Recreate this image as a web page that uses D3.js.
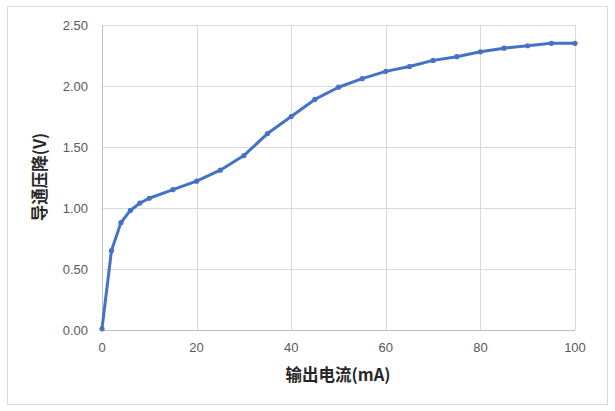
<!DOCTYPE html>
<html><head><meta charset="utf-8">
<script src="https://cdn.jsdelivr.net/npm/d3@7"></script>
<style>body{margin:0;background:#fff;}svg{display:block;}</style>
</head><body><svg id="c" width="615" height="411"></svg>
<script>
const currents = [0,2,4,6,8,10,15,20,25,30,35,40,45,50,55,60,65,70,75,80,85,90,95,100];
const voltages = [0.01,0.65,0.88,0.98,1.04,1.08,1.15,1.22,1.31,1.43,1.61,1.75,1.89,1.99,2.06,2.12,2.16,2.21,2.24,2.28,2.31,2.33,2.35,2.35];
const xTicks = [0,20,40,60,80,100];
const yTicks = [0,0.5,1,1.5,2,2.5];
const xTitle = "输出电流(mA)";
const yTitle = "导通压降(V)";

const svg = d3.select("#c");
svg.append("rect").attr("x",7.5).attr("y",6.5).attr("width",600).attr("height",398)
  .attr("fill","#fff").attr("stroke","#d9d9d9");
const L=102,R=575,T=25,B=330;
const x = d3.scaleLinear().domain([0,100]).range([L,R]);
const y = d3.scaleLinear().domain([0,2.5]).range([B,T]);
const font = "'Liberation Sans', Arial, sans-serif";

const g = svg.append("g");
g.selectAll(".hg").data(yTicks).join("line")
  .attr("x1",L).attr("x2",R).attr("y1",d=>Math.round(y(d))+0.5).attr("y2",d=>Math.round(y(d))+0.5)
  .attr("stroke","#d9d9d9");
g.selectAll(".vg").data(xTicks).join("line")
  .attr("y1",T).attr("y2",B).attr("x1",d=>Math.round(x(d))+0.5).attr("x2",d=>Math.round(x(d))+0.5)
  .attr("stroke","#d9d9d9");
g.append("line").attr("x1",L).attr("x2",R).attr("y1",B+0.5).attr("y2",B+0.5).attr("stroke","#bfbfbf");
g.append("line").attr("x1",L+0.5).attr("x2",L+0.5).attr("y1",T).attr("y2",B).attr("stroke","#bfbfbf");

g.selectAll(".yt").data(yTicks).join("text")
  .attr("x",88).attr("y",d=>y(d)+4.5).attr("text-anchor","end")
  .attr("font-family",font).attr("font-size",13).attr("fill","#595959")
  .text(d=>d3.format(".2f")(d));
g.selectAll(".xt").data(xTicks).join("text")
  .attr("x",d=>x(d)).attr("y",352).attr("text-anchor","middle")
  .attr("font-family",font).attr("font-size",13).attr("fill","#595959")
  .text(d=>d);

svg.append("text").attr("x",338).attr("y",381).attr("text-anchor","middle")
  .attr("font-family","'Noto Sans CJK SC', sans-serif").attr("font-size",16.5).attr("font-weight","bold")
  .attr("fill","#262626").text(xTitle);
svg.append("text").attr("transform","translate(46,177) rotate(-90)").attr("text-anchor","middle")
  .attr("font-family","'Noto Sans CJK SC', sans-serif").attr("font-size",16.5).attr("font-weight","bold")
  .attr("fill","#262626").text(yTitle);

const data = currents.map((c,i)=>[c,voltages[i]]);
svg.append("path").datum(data)
  .attr("d",d3.line().x(d=>x(d[0])).y(d=>y(d[1])))
  .attr("fill","none").attr("stroke","#4472C4").attr("stroke-width",3).attr("stroke-linejoin","round").attr("stroke-linecap","round");
svg.selectAll(".pt").data(data).join("circle")
  .attr("cx",d=>x(d[0])).attr("cy",d=>y(d[1])).attr("r",2.6).attr("fill","#4472C4");
</script></body></html>
